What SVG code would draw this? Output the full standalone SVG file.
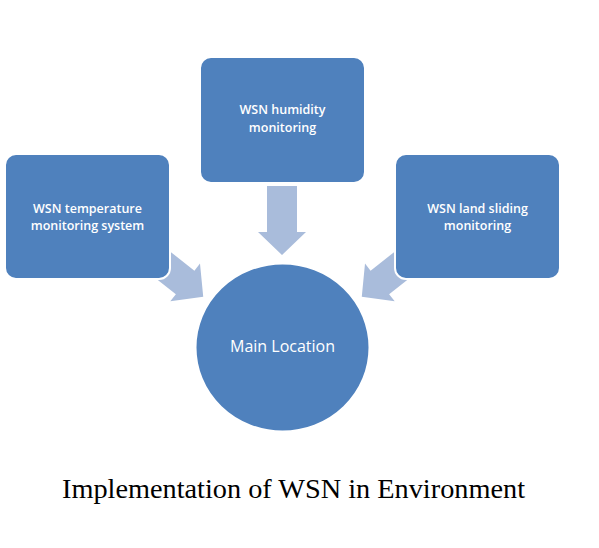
<svg xmlns="http://www.w3.org/2000/svg" width="599" height="548" viewBox="0 0 599 548">
<defs>
<style>
.node{fill:#4F81BD;stroke:#ffffff;stroke-width:2}
.arrow{fill:#A9BCDB}
.lbl{font-family:"Open Sans","Liberation Sans",sans-serif;font-weight:600;font-size:12.5px;fill:#ffffff;text-anchor:middle}
.main{font-family:"Open Sans","Liberation Sans",sans-serif;font-size:16px;fill:#ffffff;text-anchor:middle}
.cap{font-family:"Liberation Serif","Times New Roman",serif;font-size:28px;fill:#000000;text-anchor:middle}
</style>
<path id="arr" d="M-15,0 L15,0 L15,46 L24,46 L0,69 L-24,46 L-15,46 Z"/>
</defs>
<rect width="599" height="548" fill="#ffffff"/>
<g id="connectors">
<use href="#arr" class="arrow" transform="translate(282,186)"/>
<use href="#arr" class="arrow" transform="translate(149,254) rotate(-51.8)"/>
<use href="#arr" class="arrow" transform="translate(416,254) rotate(51.8)"/>
</g>
<g id="node-temperature">
<rect class="node" x="5" y="154" width="165" height="125" rx="11"/>
<text class="lbl" x="87.5" y="213">WSN temperature</text>
<text class="lbl" x="87.5" y="230">monitoring system</text>
</g>
<g id="node-humidity">
<rect class="node" x="200" y="57" width="165" height="126" rx="11"/>
<text class="lbl" x="282.5" y="114">WSN humidity</text>
<text class="lbl" x="282.5" y="132">monitoring</text>
</g>
<g id="node-landsliding">
<rect class="node" x="395" y="154" width="165" height="125" rx="11"/>
<text class="lbl" x="477.5" y="213">WSN land sliding</text>
<text class="lbl" x="477.5" y="230">monitoring</text>
</g>
<g id="node-main">
<ellipse class="node" cx="282.5" cy="347.5" rx="87" ry="84"/>
<text class="main" x="282.5" y="352">Main Location</text>
</g>
<text class="cap" x="293.5" y="498" textLength="463" lengthAdjust="spacingAndGlyphs">Implementation of WSN in Environment</text>
</svg>
